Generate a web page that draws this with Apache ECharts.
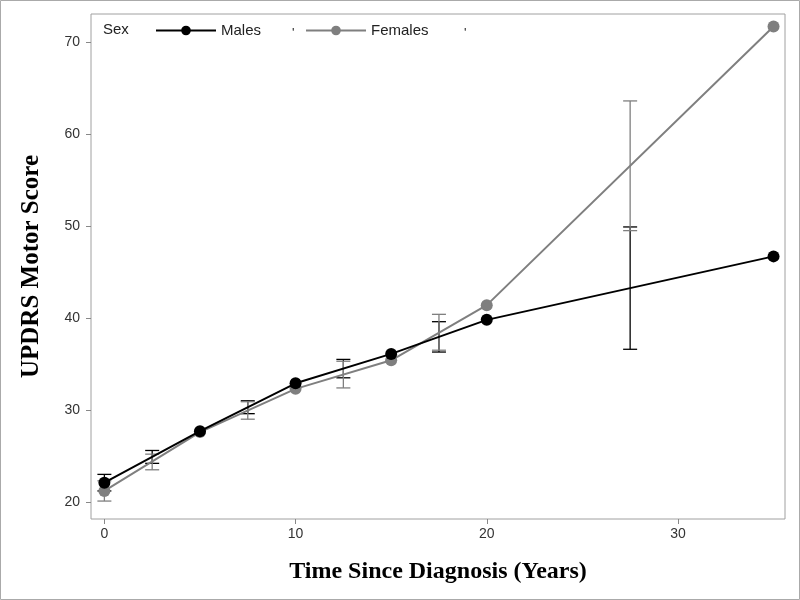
<!DOCTYPE html>
<html>
<head>
<meta charset="utf-8">
<script src="https://cdn.jsdelivr.net/npm/echarts@6/dist/echarts.min.js"></script>
<style>
  html, body { margin: 0; padding: 0; background: #fff; }
  #main { width: 800px; height: 600px; }
</style>
</head>
<body>
<div id="main"></div>
<script>
// mean scores at each time point
var years = [0, 5, 10, 15, 20, 35];
var males = [22.1, 27.7, 32.9, 36.1, 39.8, 46.7];
var females = [21.2, 27.6, 32.3, 35.4, 41.4, 71.7];

// error bars sit between the time points
var errYears = [0, 2.5, 7.5, 12.5, 17.5, 27.5];
var maleLow = [21.2, 24.2, 29.6, 33.5, 36.3, 36.6];
var maleHigh = [23.0, 25.6, 31.0, 35.5, 39.6, 49.9];
var femaleLow = [20.1, 23.5, 29.0, 32.4, 36.5, 49.5];
var femaleHigh = [22.3, 25.2, 30.9, 35.3, 40.4, 63.6];

var xTicks = [0, 10, 20, 30];
var yTicks = [20, 30, 40, 50, 60, 70];

var maleColor = '#000000';
var femaleColor = '#7f7f7f';

function errorBar(color) {
  return function (params, api) {
    var x = api.value(0);
    var lo = api.coord([x, api.value(1)]);
    var hi = api.coord([x, api.value(2)]);
    var w = 7;
    var style = { stroke: color, lineWidth: 1.3 };
    return {
      type: 'group',
      children: [
        { type: 'line', shape: { x1: lo[0], y1: lo[1], x2: hi[0], y2: hi[1] }, style: style },
        { type: 'line', shape: { x1: lo[0] - w, y1: lo[1], x2: lo[0] + w, y2: lo[1] }, style: style },
        { type: 'line', shape: { x1: hi[0] - w, y1: hi[1], x2: hi[0] + w, y2: hi[1] }, style: style }
      ]
    };
  };
}

var myChart = echarts.init(document.getElementById('main'));

var option = {
  animation: false,
  backgroundColor: '#fff',
  grid: {
    left: 91, right: 15, top: 14, bottom: 81,
    show: true, borderColor: '#a0a0a0', borderWidth: 1
  },
  legend: {
    data: ['Males', 'Females'],
    left: 150, top: 18,
    itemWidth: 60, itemHeight: 12, itemGap: 44,
    textStyle: { fontFamily: 'Liberation Sans', fontSize: 15, color: '#222' }
  },
  graphic: [
    { type: 'rect', shape: { x: 0.5, y: 0.5, width: 799, height: 599 },
      style: { fill: 'none', stroke: '#aaaaaa', lineWidth: 1 } },
    { type: 'text', x: 103, y: 30,
      style: { text: 'Sex', fontFamily: 'Liberation Sans', fontSize: 15, fill: '#222', verticalAlign: 'middle' } },
    { type: 'text', x: 292, y: 33,
      style: { text: "'", fontFamily: 'Liberation Sans', fontSize: 13, fill: '#222', verticalAlign: 'middle' } },
    { type: 'text', x: 464, y: 33,
      style: { text: "'", fontFamily: 'Liberation Sans', fontSize: 13, fill: '#222', verticalAlign: 'middle' } }
  ],
  xAxis: {
    type: 'value',
    min: -0.7, max: 35.6,
    name: 'Time Since Diagnosis (Years)',
    nameLocation: 'middle', nameGap: 41,
    nameTextStyle: { fontFamily: 'Liberation Serif', fontWeight: 'bold', fontSize: 24, color: '#000' },
    axisLine: { show: false, onZero: false },
    axisTick: { show: true, customValues: xTicks, length: 5, lineStyle: { color: '#888' } },
    axisLabel: { customValues: xTicks, fontFamily: 'Liberation Sans', fontSize: 14, color: '#333', margin: 8 },
    splitLine: { show: false }
  },
  yAxis: {
    type: 'value',
    min: 18.15, max: 73.05,
    name: 'UPDRS Motor Score',
    nameLocation: 'middle', nameGap: 47,
    nameTextStyle: { fontFamily: 'Liberation Serif', fontWeight: 'bold', fontSize: 25, color: '#000' },
    axisLine: { show: false, onZero: false },
    axisTick: { show: true, customValues: yTicks, length: 5, lineStyle: { color: '#888' } },
    axisLabel: { customValues: yTicks, fontFamily: 'Liberation Sans', fontSize: 14, color: '#333', margin: 11 },
    splitLine: { show: false }
  },
  series: [
    {
      name: 'Males err',
      type: 'custom',
      renderItem: errorBar(maleColor),
      data: errYears.map(function (x, i) { return [x, maleLow[i], maleHigh[i]]; }),
      encode: { x: 0, y: [1, 2] },
      z: 1
    },
    {
      name: 'Females err',
      type: 'custom',
      renderItem: errorBar(femaleColor),
      data: errYears.map(function (x, i) { return [x, femaleLow[i], femaleHigh[i]]; }),
      encode: { x: 0, y: [1, 2] },
      z: 1
    },
    {
      name: 'Males',
      type: 'line',
      data: years.map(function (x, i) { return [x, males[i]]; }),
      symbol: 'circle', symbolSize: 12,
      itemStyle: { color: maleColor },
      lineStyle: { color: maleColor, width: 2 },
      z: 3
    },
    {
      name: 'Females',
      type: 'line',
      data: years.map(function (x, i) { return [x, females[i]]; }),
      symbol: 'circle', symbolSize: 12,
      itemStyle: { color: femaleColor },
      lineStyle: { color: femaleColor, width: 2 },
      z: 2
    }
  ]
};

myChart.setOption(option);
</script>
</body>
</html>
